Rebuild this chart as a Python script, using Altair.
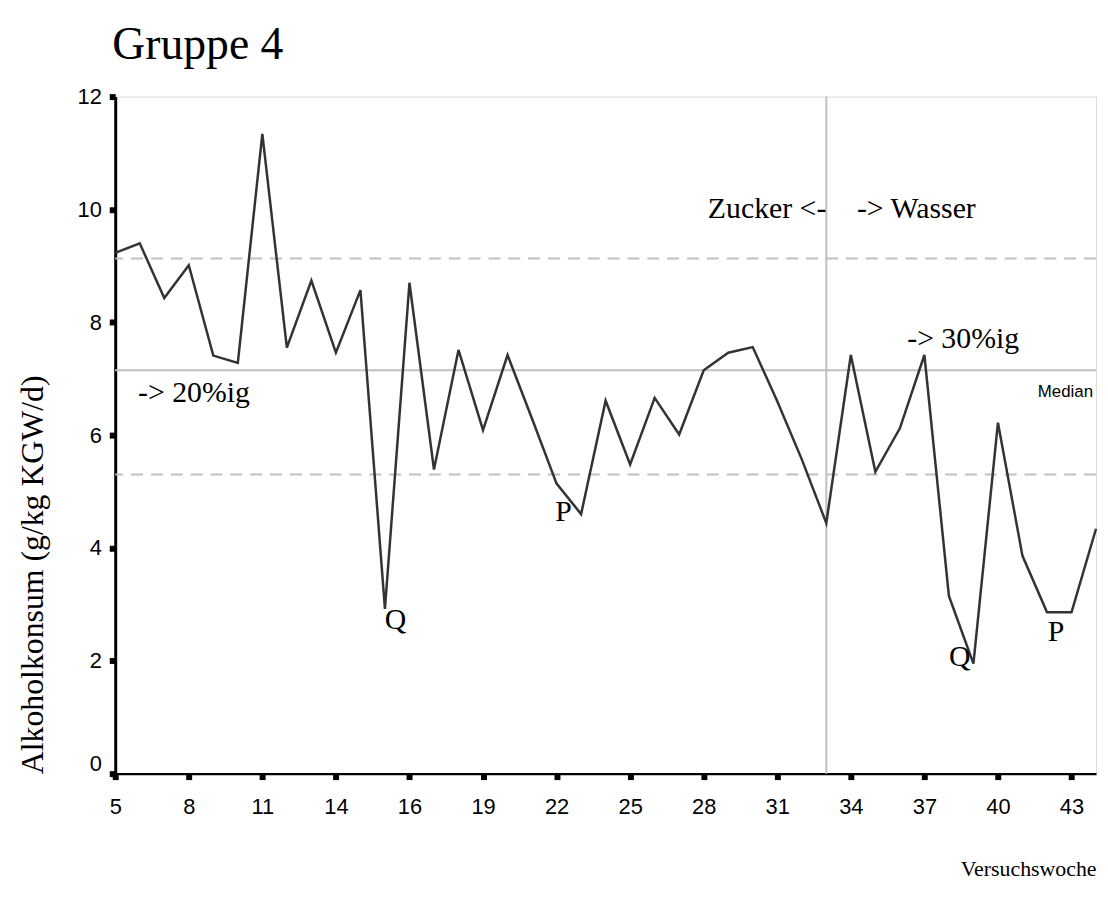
import altair as alt
import pandas as pd

# --- data ---------------------------------------------------------------
idx = list(range(41))
values = [9.23, 9.40, 8.43, 9.01, 7.41, 7.28, 11.34, 7.55, 8.74, 7.46,
          8.57, 2.92, 8.70, 5.39, 7.51, 6.09, 7.42, 6.29, 5.14, 4.60,
          6.61, 5.48, 6.66, 6.01, 7.15, 7.46, 7.56, 6.60, 5.57, 4.44,
          7.42, 5.35, 6.12, 7.42, 3.15, 1.95, 6.22, 3.86, 2.86, 2.86, 4.34]
tick_pos = [0, 3, 6, 9, 12, 15, 18, 21, 24, 27, 30, 33, 36, 39]
tick_labels = ["5", "8", "11", "14", "16", "19", "22", "25", "28", "31",
               "34", "37", "40", "43"]
y_ticks = [0, 2, 4, 6, 8, 10, 12]

band_values = [9.13, 5.30]
median_value = [7.15]
switch_pos = [29]

ann_text = ["-> 20%ig", "-> Wasser", "-> 30%ig", "Zucker <-", "Q", "P", "Q", "P"]
ann_x = [0.93, 30.25, 32.3, 29.0, 11.43, 18.28, 34.44, 38.37]
ann_y = [6.59, 9.85, 7.54, 9.85, 2.57, 4.48, 1.91, 2.35]
ann_align = ["left", "left", "left", "right", "center", "center", "center", "center"]

median_label = ["Median"]
median_label_x = [40]
median_label_y = [6.68]

# --- tables -------------------------------------------------------------
df = pd.DataFrame({"i": idx, "v": values})
bands = pd.DataFrame({"y": band_values})
med = pd.DataFrame({"y": median_value})
vline = pd.DataFrame({"x": switch_pos})
ann = pd.DataFrame({"t": ann_text, "x": ann_x, "y": ann_y, "a": ann_align})
medlab = pd.DataFrame({"t": median_label, "x": median_label_x, "y": median_label_y})

label_expr = "[" + ",".join("'%s'" % s for s in tick_labels) + "][round(datum.value/3)]"

xscale = alt.Scale(domain=[0, 40], nice=False, zero=False)
yscale = alt.Scale(domain=[0, 12], nice=False)

SERIF = "Liberation Serif"
SANS = "Liberation Sans"

x_axis = alt.Axis(values=tick_pos, labelExpr=label_expr, title="Versuchswoche",
                  grid=False, domainColor="black", domainWidth=2.5,
                  tickColor="black", tickSize=6, tickWidth=6,
                  labelFont=SANS, labelFontSize=22, labelColor="black",
                  labelPadding=17, labelFlush=False,
                  titleFont=SERIF, titleFontSize=22, titleFontWeight="normal",
                  titleColor="black", titleAnchor="end", titlePadding=42)
y_axis = alt.Axis(values=y_ticks, format="d", title="Alkoholkonsum (g/kg KGW/d)",
                  grid=False, domainColor="black", domainWidth=3,
                  tickColor="black", tickSize=6, tickWidth=6,
                  labelFont=SANS, labelFontSize=22, labelColor="black",
                  labelPadding=8,
                  labelOffset={"condition": {"test": "datum.value == 0", "value": -10},
                               "value": 0},
                  titleFont=SERIF, titleFontSize=32, titleFontWeight="normal",
                  titleColor="black", titleAnchor="start", titlePadding=28)

line = alt.Chart(df).mark_line(color="#333333", strokeWidth=2.5).encode(
    x=alt.X("i:Q", scale=xscale, axis=x_axis),
    y=alt.Y("v:Q", scale=yscale, axis=y_axis),
)

band_rules = alt.Chart(bands).mark_rule(color="#c0c0c0", strokeWidth=2,
                                        strokeDash=[12, 8]).encode(y="y:Q")
med_rule = alt.Chart(med).mark_rule(color="#c0c0c0", strokeWidth=2).encode(y="y:Q")
v_rule = alt.Chart(vline).mark_rule(color="#c0c0c0", strokeWidth=2).encode(x="x:Q")

def ann_layer(align):
    return alt.Chart(ann).transform_filter(
        alt.datum.a == align
    ).mark_text(font=SERIF, fontSize=30, color="black", align=align,
                baseline="alphabetic").encode(x="x:Q", y="y:Q", text="t:N")

med_text = alt.Chart(medlab).mark_text(font=SANS, fontSize=17, color="black",
                                       align="right", baseline="alphabetic",
                                       dx=-3).encode(
    x="x:Q", y="y:Q", text="t:N")

chart = alt.layer(
    band_rules, med_rule, v_rule, line,
    ann_layer("left"), ann_layer("right"), ann_layer("center"), med_text,
).properties(
    width=988, height=682,
    title=alt.TitleParams("Gruppe 4", anchor="start", frame="group",
                          font=SERIF, fontSize=46, fontWeight="normal",
                          color="black", offset=17, dx=-3),
    autosize=alt.AutoSizeParams(type="none"),
    padding={"left": 108, "top": 86, "right": 4, "bottom": 118},
).configure_view(stroke="black", strokeWidth=2).configure(background="white")

chart.save("out.html", embed_options={"renderer": "svg", "actions": False})
